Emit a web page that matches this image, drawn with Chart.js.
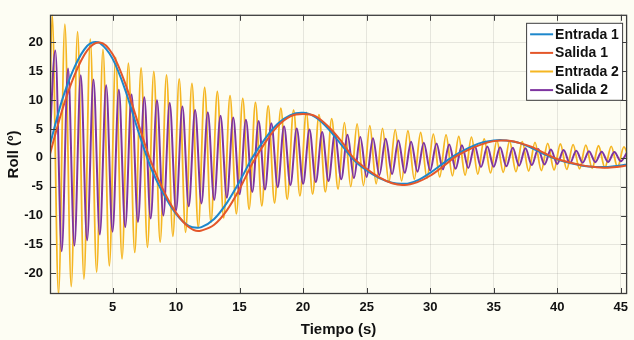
<!DOCTYPE html>
<html>
<head>
<meta charset="utf-8">
<script src="https://cdn.jsdelivr.net/npm/chart.js@4/dist/chart.umd.min.js"></script>
<style>
  html, body { margin: 0; padding: 0; background: #fdfdf3; }
  #wrap { width: 634px; height: 340px; }
</style>
</head>
<body>
<div id="wrap"><canvas id="rollChart" width="634" height="340"></canvas></div>
<script>
// Slow response (Entrada 1 / Salida 1): time stamps and roll values
const entrada1T = [0, 1, 2, 3, 3.67, 4, 5, 6, 7, 8, 9, 10, 11, 11.67, 12, 13, 14, 15, 16, 17, 18, 19,
  19.87, 20, 21, 22, 23, 24, 25, 26, 27, 27.7, 28, 29, 30, 31, 32, 33, 34, 35,
  35.5, 36, 37, 38, 39, 40, 41, 42, 43, 43.5, 44, 45, 45.5];
const entrada1V = [1.6, 9.8, 15.7, 19.4, 20.1, 19.9, 17.2, 11.8, 4.8, -1.6, -6.2, -9.7, -11.8, -12.1, -12.0, -10.6, -7.8, -4.1, 0, 3.3, 5.9, 7.4,
  7.8, 7.8, 7.0, 5.0, 2.3, -0.4, -2.2, -3.5, -4.3, -4.5, -4.5, -3.9, -2.6, -1.0, 0.5, 1.7, 2.6, 3.0,
  3.1, 3.0, 2.6, 1.7, 0.6, -0.3, -0.9, -1.35, -1.57, -1.6, -1.57, -1.33, -1.13];

const salida1T = [0, 1, 2, 3, 3.9, 4, 5, 6, 7, 8, 9, 10, 11, 11.74, 12, 13, 14, 15, 16, 17, 18, 19, 20,
  21, 22, 23, 24, 25, 26, 27, 27.8, 28, 29, 30, 31, 32, 33, 34, 35,
  35.6, 36, 37, 38, 39, 40, 41, 42, 43, 43.6, 44, 45, 45.5];
const salida1V = [0, 8.0, 14.3, 18.6, 20.0, 20.0, 18.0, 12.9, 6.1, -0.5, -5.6, -9.5, -12.0, -12.7, -12.6, -11.6, -9.1, -5.4, -1.0, 2.6, 5.5, 7.2, 7.6,
  7.2, 5.4, 2.9, -0.1, -1.9, -3.4, -4.4, -4.7, -4.7, -4.2, -3.1, -1.5, 0.2, 1.4, 2.3, 2.9,
  3.0, 3.0, 2.6, 1.9, 0.8, -0.2, -0.8, -1.3, -1.6, -1.7, -1.7, -1.5, -1.3];

// Fast response (Entrada 2 / Salida 2): one peak and one trough per second
const entrada2Peaks = [24.8, 23.2, 21.9, 20.6, 18.8, 17.4, 16.4, 15.6, 15.0, 14.4,
  13.7, 12.9, 12.2, 11.5, 10.8, 10.3, 9.6, 9.0, 8.6, 8.3,
  7.9, 7.5, 6.8, 6.1, 5.9, 5.6, 5.1, 4.9, 4.7, 4.4,
  4.1, 4.0, 3.7, 3.6, 3.3, 3.0, 2.9, 2.8, 2.7, 2.5,
  2.4, 2.3, 2.2, 2.1, 2.0, 1.9];
const entrada2Troughs = [-23.6, -22.3, -21.0, -19.8, -18.7, -17.5, -16.4, -15.5, -14.6, -13.6,
  -12.9, -12.1, -11.2, -10.4, -9.7, -8.9, -8.3, -7.8, -7.2, -6.6,
  -6.3, -5.9, -5.4, -5.0, -4.8, -4.5, -4.2, -4.0, -3.7, -3.5,
  -3.3, -3.1, -3.0, -2.8, -2.6, -2.5, -2.4, -2.3, -2.2, -2.1,
  -2.0, -1.9, -1.8, -1.7, -1.6, -1.55];

const salida2Peaks = [18.6, 15.5, 14.3, 13.6, 12.6, 11.8, 11.0, 10.5, 10.0, 9.5,
  8.9, 8.3, 7.9, 7.3, 7.0, 6.6, 6.4, 6.0, 5.5, 5.1,
  4.9, 4.5, 4.2, 4.0, 3.6, 3.4, 3.3, 3.0, 2.8, 2.6,
  2.5, 2.3, 2.2, 2.1, 1.95, 1.85, 1.75, 1.65, 1.55, 1.45,
  1.35, 1.25, 1.15, 1.05, 1.0, 0.95];
const salida2Troughs = [-16.2, -15.2, -14.3, -13.3, -12.8, -12.0, -11.1, -10.5, -10.0, -9.1,
  -8.4, -7.9, -7.3, -6.9, -6.3, -5.9, -5.5, -5.1, -4.7, -4.5,
  -4.2, -4.0, -3.7, -3.5, -3.3, -3.0, -2.8, -2.6, -2.4, -2.2,
  -2.0, -1.9, -1.75, -1.6, -1.55, -1.45, -1.35, -1.25, -1.15, -1.05,
  -0.95, -0.85, -0.75, -0.7, -0.6];

const xTicks = [5, 10, 15, 20, 25, 30, 35, 40, 45];
const yTicks = [-20, -15, -10, -5, 0, 5, 10, 15, 20];

const seriesNames = ['Entrada 1', 'Salida 1', 'Entrada 2', 'Salida 2'];
const seriesColors = ['#1d87cc', '#e4572a', '#f5b622', '#7e34a0'];

const FONT = "'Liberation Sans', Arial, Helvetica, sans-serif";

function pairUp(ts, vs) {
    return ts.map((t, i) => ({ x: t, y: vs[i] }));
}

// peaks/troughs sit at k + offset seconds, starting from rest at t = 0
function extremaSeries(peaks, troughs, peakAt, troughAt) {
    const pts = [{ x: 0, y: 0 }];
    const n = Math.max(peaks.length, troughs.length);
    for (let k = 0; k < n; k++) {
        if (k < peaks.length) pts.push({ x: k + peakAt, y: peaks[k] });
        if (k < troughs.length) pts.push({ x: k + troughAt, y: troughs[k] });
    }
    return pts;
}

const bgFill = {
    id: 'bgFill',
    beforeDraw(chart) {
        const { ctx, width, height } = chart;
        ctx.save();
        ctx.fillStyle = '#fdfdf3';
        ctx.fillRect(0, 0, width, height);
        ctx.restore();
    }
};

// axes box with inward tick marks on all four sides
const axesBox = {
    id: 'axesBox',
    afterDatasetsDraw(chart) {
        const { ctx, chartArea: a, scales: { x, y } } = chart;
        const len = 6;
        ctx.save();
        ctx.strokeStyle = '#3d3d3d';
        ctx.lineWidth = 1;
        ctx.beginPath();
        xTicks.forEach(v => {
            const px = Math.round(x.getPixelForValue(v)) + 0.5;
            ctx.moveTo(px, a.bottom); ctx.lineTo(px, a.bottom - len);
            ctx.moveTo(px, a.top); ctx.lineTo(px, a.top + len);
        });
        yTicks.forEach(v => {
            const py = Math.round(y.getPixelForValue(v)) + 0.5;
            ctx.moveTo(a.left, py); ctx.lineTo(a.left + len, py);
            ctx.moveTo(a.right, py); ctx.lineTo(a.right - len, py);
        });
        ctx.stroke();
        ctx.lineWidth = 1.3;
        ctx.strokeRect(a.left + 0.5, a.top + 0.5, a.right - a.left - 1, a.bottom - a.top - 1);
        ctx.restore();
    }
};

const boxLegend = {
    id: 'boxLegend',
    afterDraw(chart) {
        const { ctx, chartArea: a } = chart;
        const w = 96, h = 77;
        const left = a.right - 101, top = a.top + 8;
        ctx.save();
        ctx.fillStyle = '#ffffff';
        ctx.fillRect(left, top, w, h);
        ctx.strokeStyle = '#3d3d3d';
        ctx.lineWidth = 1;
        ctx.strokeRect(left + 0.5, top + 0.5, w, h);
        ctx.font = 'bold 14px ' + FONT;
        ctx.textBaseline = 'middle';
        ctx.textAlign = 'left';
        seriesNames.forEach((name, i) => {
            const cy = top + 11.5 + i * 18.6;
            ctx.strokeStyle = seriesColors[i];
            ctx.lineWidth = 2;
            ctx.beginPath();
            ctx.moveTo(left + 4, cy);
            ctx.lineTo(left + 27, cy);
            ctx.stroke();
            ctx.fillStyle = '#111111';
            ctx.fillText(name, left + 29, cy + 0.5);
        });
        ctx.restore();
    }
};

const ctx = document.getElementById('rollChart').getContext('2d');
const rollChart = new Chart(ctx, {
    type: 'line',
    data: {
        datasets: [
            { label: seriesNames[0], data: pairUp(entrada1T, entrada1V), borderColor: seriesColors[0], borderWidth: 2, order: 1 },
            { label: seriesNames[1], data: pairUp(salida1T, salida1V), borderColor: seriesColors[1], borderWidth: 2, order: 0 },
            { label: seriesNames[2], data: extremaSeries(entrada2Peaks, entrada2Troughs, 0.25, 0.75), borderColor: seriesColors[2], borderWidth: 1.8, order: 3 },
            { label: seriesNames[3], data: extremaSeries(salida2Peaks, salida2Troughs, 0.5, 1.0), borderColor: seriesColors[3], borderWidth: 2, order: 2 }
        ]
    },
    options: {
        responsive: false,
        animation: false,
        devicePixelRatio: 1,
        layout: { padding: { left: 0, right: 2, top: 5, bottom: 0 } },
        elements: {
            point: { radius: 0 },
            line: { cubicInterpolationMode: 'monotone', fill: false }
        },
        plugins: { legend: { display: false }, tooltip: { enabled: false } },
        scales: {
            x: {
                type: 'linear',
                min: 0.08,
                max: 45.5,
                afterBuildTicks: s => { s.ticks = xTicks.map(v => ({ value: v })); },
                afterFit: s => { s.height = 46; },
                grid: { color: 'rgba(0,0,0,0.09)', drawTicks: false },
                border: { display: false },
                ticks: { padding: 6, color: '#111', font: { family: FONT, size: 13, weight: 'bold' } },
                title: { display: true, text: 'Tiempo (s)', color: '#111', padding: { top: 0, bottom: 1 }, font: { family: FONT, size: 15, weight: 'bold' } }
            },
            y: {
                type: 'linear',
                min: -23.6,
                max: 24.8,
                afterBuildTicks: s => { s.ticks = yTicks.map(v => ({ value: v })); },
                afterFit: s => { s.width = 50; },
                grid: { color: 'rgba(0,0,0,0.09)', drawTicks: false },
                border: { display: false },
                ticks: { padding: 7, color: '#111', font: { family: FONT, size: 13, weight: 'bold' } },
                title: { display: true, text: 'Roll (º)', color: '#111', padding: { top: 5, bottom: 0 }, font: { family: FONT, size: 15, weight: 'bold' } }
            }
        }
    },
    plugins: [bgFill, axesBox, boxLegend]
});
</script>
</body>
</html>
